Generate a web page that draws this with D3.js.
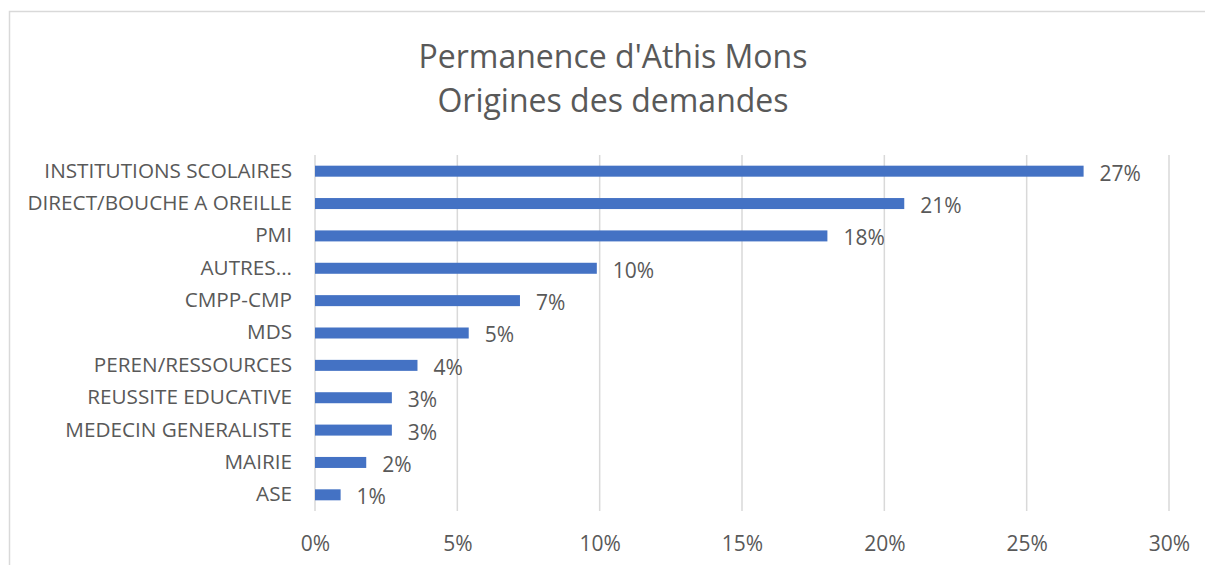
<!DOCTYPE html>
<html><head><meta charset="utf-8">
<script src="https://cdn.jsdelivr.net/npm/d3@7"></script>
<style>body{margin:0;background:#fff}svg{display:block}text{font-family:"Open Sans",sans-serif;fill:#595959}</style>
</head><body><svg id="c" width="1205" height="565"></svg>
<script>
const categories = ["INSTITUTIONS SCOLAIRES","DIRECT/BOUCHE A OREILLE","PMI","AUTRES...","CMPP-CMP","MDS","PEREN/RESSOURCES","REUSSITE EDUCATIVE","MEDECIN GENERALISTE","MAIRIE","ASE"];
const values = [27.0, 20.7, 18.0, 9.9, 7.2, 5.4, 3.6, 2.7, 2.7, 1.8, 0.9];
const tickValues = [0, 5, 10, 15, 20, 25, 30];
const titleLines = ["Permanence d'Athis Mons", "Origines des demandes"];

const svg = d3.select("#c");
svg.append("rect").attr("x",9.5).attr("y",11.5).attr("width",1200).attr("height",560)
  .attr("fill","none").attr("stroke","#d9d9d9").attr("stroke-width",1.5);

const x = d3.scaleLinear().domain([0,30]).range([315,1169]);
const y = d3.scaleBand().domain(categories).range([155,511]).paddingInner(0.66).paddingOuter(0.33);

svg.append("g").selectAll("line").data(tickValues).join("line")
  .attr("x1",d=>x(d)).attr("x2",d=>x(d)).attr("y1",155).attr("y2",511)
  .attr("stroke","#d9d9d9").attr("stroke-width",1.5);

const xa = svg.append("g")
  .call(d3.axisBottom(x).tickValues(tickValues).tickFormat(d=>d+"%").tickSize(0));
xa.select(".domain").remove();
xa.selectAll("text").attr("y",551).attr("dy",null).style("font-size","21px").attr("fill","#595959");

const ya = svg.append("g").attr("transform","translate(292,0)")
  .call(d3.axisLeft(y).tickSize(0).tickPadding(0));
ya.select(".domain").remove();
ya.selectAll("text").attr("x",0).attr("dy","0.31em").style("font-size","20.7px").attr("fill","#595959");

svg.append("g").selectAll("rect").data(values).join("rect")
  .attr("x",x(0)).attr("y",(d,i)=>y(categories[i]))
  .attr("width",d=>x(d)-x(0)).attr("height",y.bandwidth()).attr("fill","#4472C4");

const fmt = d3.format(".0%");
svg.append("g").selectAll("text").data(values).join("text")
  .attr("x",d=>x(d)+16).attr("y",(d,i)=>y(categories[i])+y.bandwidth()/2)
  .attr("dy","0.45em").style("font-size","21px").text(d=>fmt(d/100));

svg.append("g").selectAll("text").data(titleLines).join("text")
  .attr("x",613).attr("y",(d,i)=>67.5+i*44.5).attr("text-anchor","middle")
  .style("font-size","32px").text(d=>d);
</script></body></html>
